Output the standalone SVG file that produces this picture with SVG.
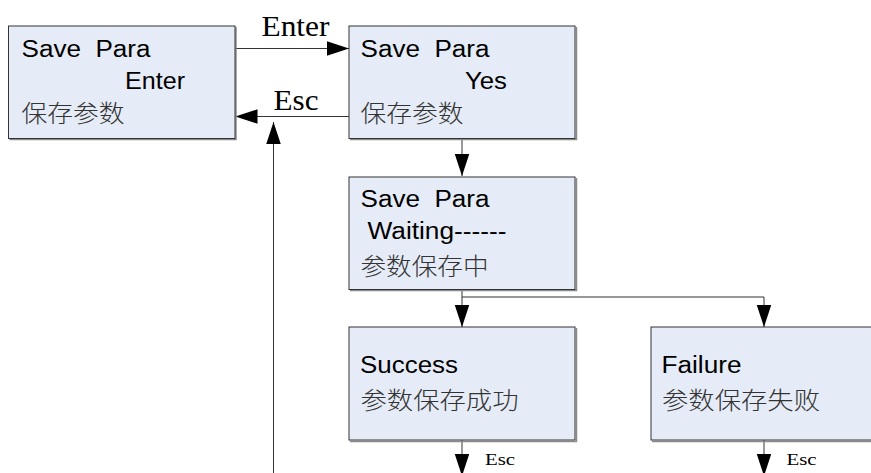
<svg xmlns="http://www.w3.org/2000/svg" width="871" height="473" viewBox="0 0 871 473">
  <defs>
    <marker id="arrow" markerUnits="userSpaceOnUse" markerWidth="22" markerHeight="15" refX="22" refY="7.25" orient="auto">
      <path d="M0,0 L22,7.25 L0,14.5 Z" fill="#000"/>
    </marker>
    <style>
      .box { fill: #E6ECF7; stroke: #333; stroke-width: 1; }
      .shadow { fill: none; stroke: #8a8a8a; stroke-width: 1.5; }
      .t { font-family: "Liberation Sans", Arial, sans-serif; font-size: 23px; fill: #000; white-space: pre; }
      .cjk { font-family: "Noto Sans CJK SC", sans-serif; font-size: 24px; font-weight: 300; fill: #333; }
      .lbl { font-family: "Liberation Serif", "Times New Roman", serif; font-size: 29px; fill: #000; }
      .lbl-s { font-family: "Liberation Serif", "Times New Roman", serif; font-size: 16px; fill: #000; }
      .wire { fill: none; stroke: #333; stroke-width: 1; }
    </style>
  </defs>
  <rect width="871" height="473" fill="#fff"/>

  <!-- connectors -->
  <g id="connectors">
    <line class="wire" x1="235" y1="48.5" x2="349" y2="48.5" marker-end="url(#arrow)"/>
    <line class="wire" x1="349" y1="116.5" x2="235.5" y2="116.5" marker-end="url(#arrow)"/>
    <line class="wire" x1="273.5" y1="480" x2="273.5" y2="122" marker-end="url(#arrow)"/>
    <line class="wire" x1="462" y1="138.5" x2="462" y2="176" marker-end="url(#arrow)"/>
    <polyline class="wire" points="462,289 462,297 764,297 764,327" marker-end="url(#arrow)"/>
    <line class="wire" x1="462" y1="297" x2="462" y2="327" marker-end="url(#arrow)"/>
    <line class="wire" x1="462" y1="440" x2="462" y2="476" marker-end="url(#arrow)"/>
    <line class="wire" x1="764" y1="440" x2="764" y2="476" marker-end="url(#arrow)"/>
    <text class="lbl" x="261.5" y="36" textLength="68" lengthAdjust="spacingAndGlyphs">Enter</text>
    <text class="lbl" x="273.5" y="110" textLength="45" lengthAdjust="spacingAndGlyphs">Esc</text>
    <text class="lbl-s" x="485" y="465" textLength="30" lengthAdjust="spacingAndGlyphs">Esc</text>
    <text class="lbl-s" x="786.5" y="465" textLength="30" lengthAdjust="spacingAndGlyphs">Esc</text>
  </g>

  <!-- menu: save parameters, confirm prompt -->
  <g id="save-enter">
    <polyline class="shadow" points="236,27 236,139.5 9.5,139.5"/>
    <rect class="box" x="8.5" y="26" width="226.5" height="112.5"/>
    <text class="t" x="21.5" y="56.5" textLength="129" lengthAdjust="spacingAndGlyphs" xml:space="preserve">Save  Para</text>
    <text class="t" x="125" y="89" textLength="60" lengthAdjust="spacingAndGlyphs">Enter</text>
    <text class="cjk" x="21.5" y="121.5" textLength="103" lengthAdjust="spacingAndGlyphs">保存参数</text>
  </g>

  <g id="save-yes">
    <polyline class="shadow" points="576.5,27 576.5,139.5 350,139.5"/>
    <rect class="box" x="349" y="26" width="226" height="112.5"/>
    <text class="t" x="360.5" y="56.5" textLength="129" lengthAdjust="spacingAndGlyphs" xml:space="preserve">Save  Para</text>
    <text class="t" x="465" y="89" textLength="42" lengthAdjust="spacingAndGlyphs">Yes</text>
    <text class="cjk" x="360.5" y="121.5" textLength="103" lengthAdjust="spacingAndGlyphs">保存参数</text>
  </g>

  <g id="save-waiting">
    <polyline class="shadow" points="576.5,178 576.5,290.5 350,290.5"/>
    <rect class="box" x="349" y="177" width="226" height="112.5"/>
    <text class="t" x="360.5" y="207" textLength="129" lengthAdjust="spacingAndGlyphs" xml:space="preserve">Save  Para</text>
    <text class="t" x="367.5" y="239" textLength="139" lengthAdjust="spacingAndGlyphs">Waiting------</text>
    <text class="cjk" x="360.5" y="274.5" textLength="128" lengthAdjust="spacingAndGlyphs">参数保存中</text>
  </g>

  <g id="save-success">
    <polyline class="shadow" points="576.5,328 576.5,441.5 350,441.5"/>
    <rect class="box" x="349" y="327" width="226" height="113"/>
    <text class="t" x="360" y="373" textLength="98" lengthAdjust="spacingAndGlyphs">Success</text>
    <text class="cjk" x="360.5" y="408.5" textLength="158" lengthAdjust="spacingAndGlyphs">参数保存成功</text>
  </g>

  <g id="save-failure">
    <polyline class="shadow" points="878,328 878,441.5 652,441.5"/>
    <rect class="box" x="651" y="327" width="226" height="113"/>
    <text class="t" x="661.5" y="373" textLength="80" lengthAdjust="spacingAndGlyphs">Failure</text>
    <text class="cjk" x="662" y="408.5" textLength="158" lengthAdjust="spacingAndGlyphs">参数保存失败</text>
  </g>
</svg>
